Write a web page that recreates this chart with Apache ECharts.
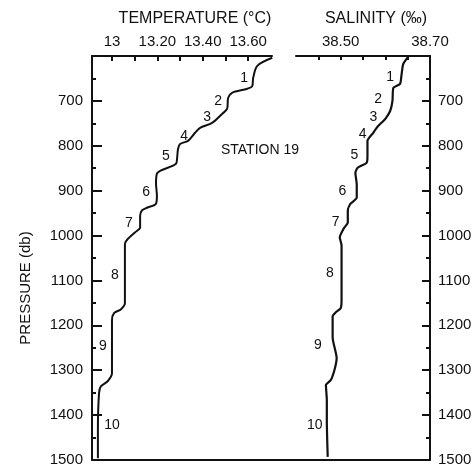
<!DOCTYPE html>
<html>
<head>
<meta charset="utf-8">
<script src="https://cdn.jsdelivr.net/npm/echarts@6/dist/echarts.min.js"></script>
<style>
  html, body { margin: 0; padding: 0; background: #fff; }
  #chart { width: 476px; height: 470px; }
</style>
</head>
<body>
<div id="chart"></div>
<script>
// temperature profile, station 19: [temperature (°C), pressure (db)]
const tempProfile = [
  [13.706, 604], [13.640, 622], [13.622, 649], [13.618, 667], [13.596, 673],
  [13.529, 682], [13.512, 693], [13.507, 718], [13.485, 729], [13.441, 749],
  [13.388, 760], [13.366, 771], [13.335, 789], [13.300, 796], [13.291, 807],
  [13.287, 827], [13.282, 840], [13.212, 856], [13.198, 862], [13.194, 884],
  [13.198, 911], [13.194, 929], [13.154, 938], [13.132, 944], [13.124, 956],
  [13.124, 982], [13.101, 993], [13.071, 1007], [13.057, 1018], [13.057, 1078],
  [13.057, 1151], [13.040, 1164], [13.009, 1173], [13.000, 1189], [13.000, 1307],
  [12.982, 1324], [12.951, 1336], [12.943, 1351], [12.938, 1433], [12.938, 1496]
]
// salinity profile: [salinity (‰), pressure (db)]
const salProfile = [
  [38.651, 602], [38.640, 618], [38.636, 644], [38.633, 662], [38.618, 671],
  [38.616, 700], [38.611, 722], [38.600, 740], [38.582, 758], [38.573, 771],
  [38.560, 789], [38.560, 822], [38.558, 838], [38.538, 849], [38.533, 860],
  [38.536, 887], [38.536, 916], [38.522, 929], [38.516, 944], [38.516, 971],
  [38.507, 984], [38.498, 1004], [38.502, 1022], [38.502, 1084], [38.502, 1144],
  [38.500, 1162], [38.489, 1171], [38.482, 1180], [38.482, 1227], [38.491, 1273],
  [38.487, 1296], [38.478, 1322], [38.467, 1333], [38.469, 1367], [38.469, 1411],
  [38.471, 1493]
]
// numbered layers along each profile
const layerNames = ['1', '2', '3', '4', '5', '6', '7', '8', '9', '10']
const tempLayerPos = [
  [13.582, 649], [13.468, 700], [13.419, 736], [13.318, 778], [13.238, 822],
  [13.150, 904], [13.075, 973], [13.013, 1089], [12.960, 1247], [13.000, 1422]
]
const salLayerPos = [
  [38.611, 647], [38.584, 696], [38.573, 736], [38.549, 773], [38.531, 820],
  [38.504, 902], [38.489, 971], [38.476, 1084], [38.449, 1244], [38.442, 1422]
]
// axis ticks / labels
const pressureMin = 600
const pressureMax = 1500
const tempTicks = [13.0, 13.1, 13.2, 13.3, 13.4, 13.5, 13.6]
const tempLabels = [13.0, 13.2, 13.4, 13.6]
const salTicks = [38.45, 38.50, 38.55, 38.60, 38.65]
const salLabels = [38.50, 38.70]

const FONT = "'Liberation Sans', Arial, sans-serif"
const INK = '#111'

const chart = echarts.init(document.getElementById('chart'), null, { renderer: 'canvas' })

const pressureAxis = (grid, pos, show) => ({
  type: 'value',
  gridIndex: grid,
  position: pos,
  inverse: true,
  min: pressureMin,
  max: pressureMax,
  interval: 100,
  show: show,
  axisLine: { show: true, lineStyle: { color: INK, width: 2 } },
  axisTick: { show: true, inside: true, length: pos === 'left' ? 10 : 8, lineStyle: { color: INK, width: 2 } },
  minorTick: { show: true, splitNumber: 2, length: 4, lineStyle: { color: INK, width: 2 } },
  splitLine: { show: false },
  axisLabel: {
    show: true,
    margin: pos === 'left' ? 9 : 8,
    color: INK,
    fontFamily: FONT,
    fontSize: 15,
    formatter: v => (v === pressureMin ? '' : String(v))
  }
})

const profileLabels = (names, pos, xi, yi) => ({
  type: 'scatter',
  xAxisIndex: xi,
  yAxisIndex: yi,
  symbolSize: 0,
  silent: true,
  itemStyle: { opacity: 1 },
  emphasis: { disabled: true },
  label: {
    show: true,
    position: 'inside',
    formatter: p => p.name,
    color: INK,
    fontFamily: FONT,
    fontSize: 14
  },
  data: pos.map((p, i) => ({ name: names[i], value: p }))
})

chart.setOption({
  animation: false,
  backgroundColor: '#fff',
  title: [
    { text: 'TEMPERATURE (°C)', left: 190, top: 6, textAlign: 'center',
      textStyle: { fontFamily: FONT, fontSize: 16, fontWeight: 'normal', color: INK } },
    { text: 'SALINITY (‰)', left: 371, top: 6, textAlign: 'center',
      textStyle: { fontFamily: FONT, fontSize: 16, fontWeight: 'normal', color: INK } }
  ],
  grid: [
    { left: 92, right: 204, top: 56, bottom: 10 },  // temperature
    { left: 296, right: 46, top: 56, bottom: 10 },  // salinity
    { left: 92, right: 46, top: 56, bottom: 10 }    // frame with pressure axes
  ],
  xAxis: [
    {
      type: 'value', gridIndex: 0, position: 'top',
      min: 12.912, max: 13.705,
      axisLine: { show: true, lineStyle: { color: INK, width: 2 } },
      axisTick: { show: true, inside: true, length: 5, customValues: tempTicks, lineStyle: { color: INK, width: 2 } },
      axisLabel: {
        show: true, customValues: tempLabels, margin: 7, color: INK, fontFamily: FONT, fontSize: 15,
        formatter: v => (Math.abs(v - 13) < 1e-6 ? '13' : v.toFixed(2))
      },
      splitLine: { show: false }
    },
    {
      type: 'value', gridIndex: 1, position: 'top',
      min: 38.40, max: 38.70,
      axisLine: { show: true, lineStyle: { color: INK, width: 2 } },
      axisTick: { show: true, inside: true, length: 4, customValues: salTicks, lineStyle: { color: INK, width: 2 } },
      axisLabel: {
        show: true, customValues: salLabels, margin: 7, color: INK, fontFamily: FONT, fontSize: 15,
        formatter: v => v.toFixed(2)
      },
      splitLine: { show: false }
    },
    {
      type: 'value', gridIndex: 2, position: 'bottom', min: 0, max: 1,
      axisLine: { show: true, lineStyle: { color: INK, width: 2 } },
      axisTick: { show: false },
      axisLabel: { show: false },
      splitLine: { show: false }
    }
  ],
  yAxis: [
    pressureAxis(0, 'left', false),
    pressureAxis(1, 'right', false),
    pressureAxis(2, 'left', true),
    pressureAxis(2, 'right', true)
  ],
  graphic: [
    {
      type: 'text', x: 26, y: 288, rotation: Math.PI / 2,
      style: { text: 'PRESSURE (db)', fontFamily: FONT, fontSize: 15, fill: INK,
        textAlign: 'center', textVerticalAlign: 'middle' }
    },
    {
      type: 'text', x: 260, y: 150,
      style: { text: 'STATION 19', fontFamily: FONT, fontSize: 14, fill: INK,
        textAlign: 'center', textVerticalAlign: 'middle' }
    }
  ],
  series: [
    {
      type: 'line', xAxisIndex: 0, yAxisIndex: 0,
      data: tempProfile, showSymbol: false, smooth: 0.3,
      lineStyle: { color: INK, width: 2 }
    },
    {
      type: 'line', xAxisIndex: 1, yAxisIndex: 1,
      data: salProfile, showSymbol: false, smooth: 0.2,
      lineStyle: { color: INK, width: 2.2 }
    },
    profileLabels(layerNames, tempLayerPos, 0, 0),
    profileLabels(layerNames, salLayerPos, 1, 1)
  ]
})
</script>
</body>
</html>
